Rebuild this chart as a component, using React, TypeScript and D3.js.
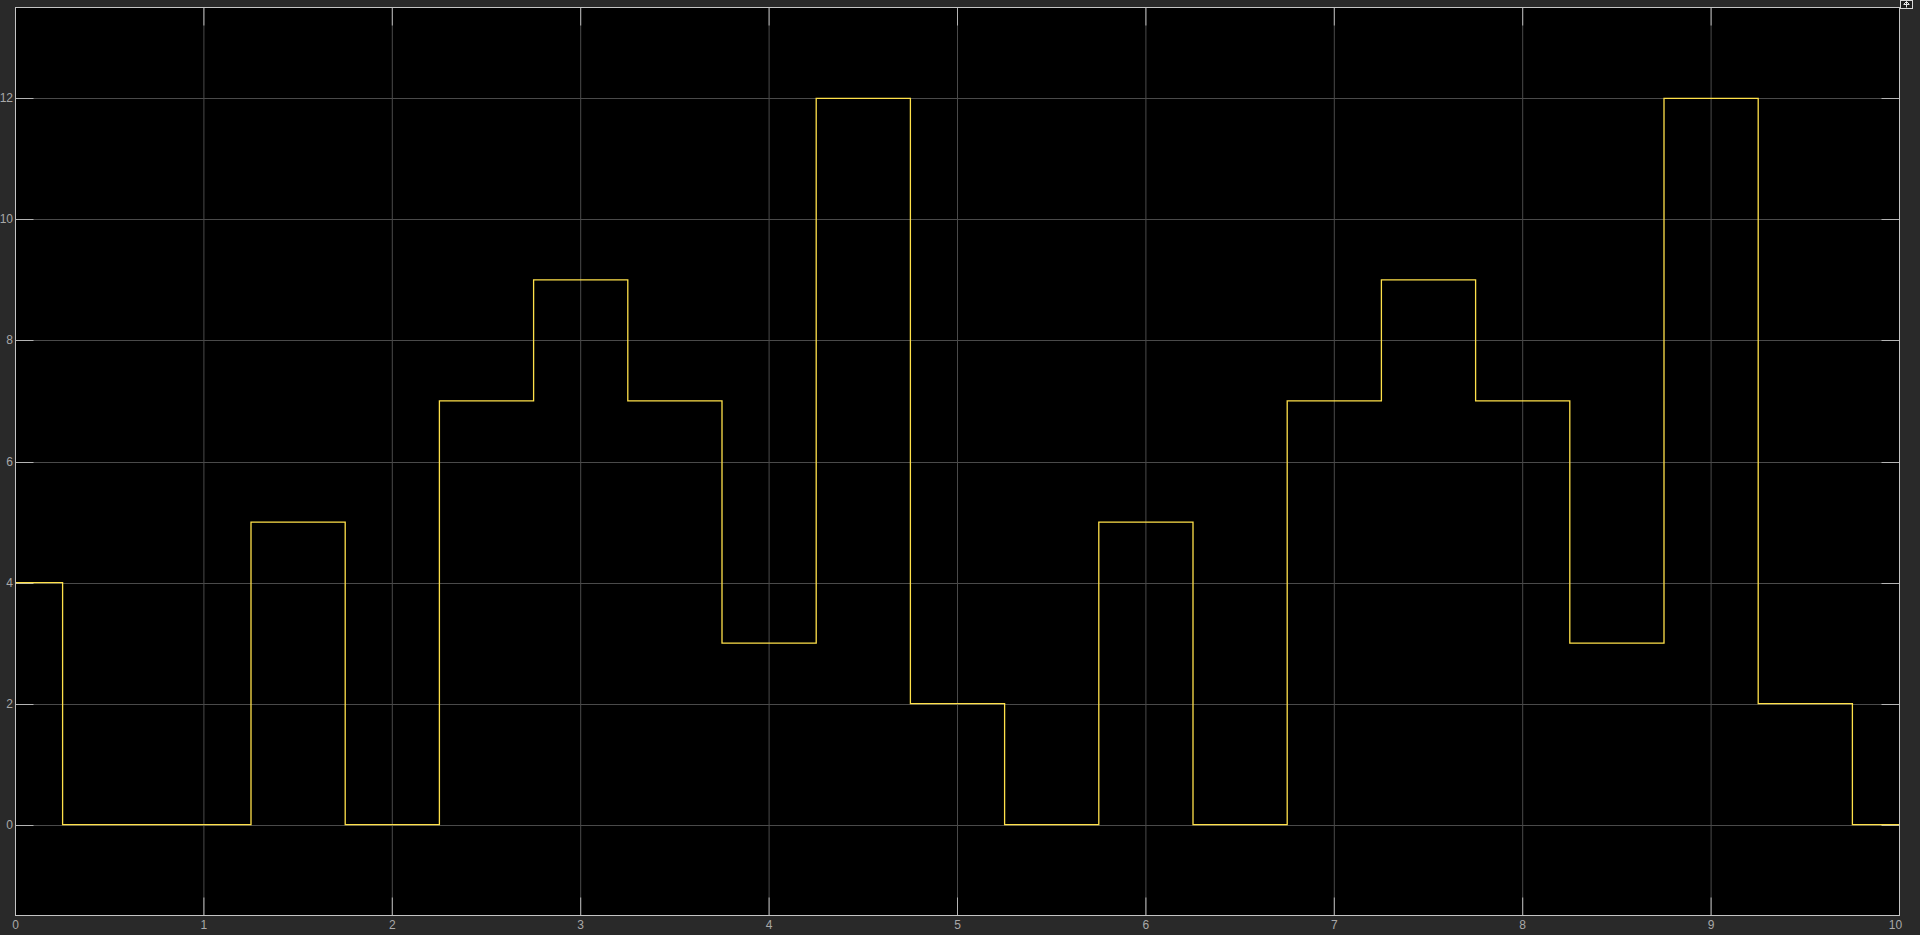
import React from "react";
import * as d3 from "d3";

// Step signal: breakpoints (time) and value held from each breakpoint onward
const stepTimes = [0, 0.25, 1.25, 1.75, 2.25, 2.75, 3.25, 3.75, 4.25, 4.75, 5.25, 5.75, 6.25, 6.75, 7.25, 7.75, 8.25, 8.75, 9.25, 9.75, 10];
const stepValues = [4, 0, 5, 0, 7, 9, 7, 3, 12, 2, 0, 5, 0, 7, 9, 7, 3, 12, 2, 0, 0];
const xTicks = [0, 1, 2, 3, 4, 5, 6, 7, 8, 9, 10];
const yTicks = [0, 2, 4, 6, 8, 10, 12];
const xDomain = [0, 10];
const yDomain = [-1.5, 13.5];

const W = 1920;
const H = 935;
const left = 15.5;
const right = 1899.5;
const top = 7.5;
const bottom = 915.5;

export default function App() {
  const x = d3.scaleLinear().domain(xDomain).range([left, right]);
  const y = d3.scaleLinear().domain(yDomain).range([bottom, top]);
  const pts: [number, number][] = stepTimes.map((t, i) => [t, stepValues[i]]);
  const line = d3
    .line<[number, number]>()
    .x((d) => x(d[0]))
    .y((d) => y(d[1]))
    .curve(d3.curveStepAfter);
  const tickLen = 18;
  const font = "Arial, 'Liberation Sans', sans-serif";
  return (
    <svg
      width={W}
      height={H}
      style={{ position: "fixed", left: 0, top: 0, display: "block" }}
    >
      <rect x={0} y={0} width={W} height={H} fill="#292929" />
      <rect x={left} y={top} width={right - left} height={bottom - top} fill="#000" />
      {/* grid */}
      {xTicks.map((t) => (
        <line key={"gx" + t} x1={x(t)} x2={x(t)} y1={top} y2={bottom} stroke="#4a4a4a" strokeWidth={1} />
      ))}
      {yTicks.map((t) => (
        <line key={"gy" + t} x1={left} x2={right} y1={Math.round(y(t)) + 0.5} y2={Math.round(y(t)) + 0.5} stroke="#4a4a4a" strokeWidth={1} />
      ))}
      {/* ticks */}
      {xTicks.map((t) => (
        <g key={"tx" + t}>
          <line x1={x(t)} x2={x(t)} y1={bottom} y2={bottom - tickLen} stroke="#b4b4b4" />
          <line x1={x(t)} x2={x(t)} y1={top} y2={top + tickLen} stroke="#b4b4b4" />
        </g>
      ))}
      {yTicks.map((t) => (
        <g key={"ty" + t}>
          <line x1={left} x2={left + tickLen} y1={Math.round(y(t)) + 0.5} y2={Math.round(y(t)) + 0.5} stroke="#b4b4b4" />
          <line x1={right - tickLen} x2={right} y1={Math.round(y(t)) + 0.5} y2={Math.round(y(t)) + 0.5} stroke="#b4b4b4" />
        </g>
      ))}
      {/* signal */}
      <path d={line(pts) || ""} fill="none" stroke="#ffe14a" strokeWidth={1.3} />
      {/* border */}
      <rect x={left} y={top} width={right - left} height={bottom - top} fill="none" stroke="#c4c4c4" strokeWidth={1} />
      {/* labels */}
      {yTicks.map((t) => (
        <text key={"ly" + t} x={13} y={y(t) + 4} textAnchor="end" fill="#a8a8a8" fontSize={12} fontFamily={font}>
          {t}
        </text>
      ))}
      {xTicks.map((t) => (
        <text key={"lx" + t} x={x(t) + (t === 10 ? -4 : 0)} y={929} textAnchor="middle" fill="#a8a8a8" fontSize={12} fontFamily={font}>
          {t}
        </text>
      ))}
      {/* corner button */}
      <g>
        <rect x={1900.5} y={0.5} width={12} height={8} fill="#1e1e1e" stroke="#d8d8d8" strokeWidth={1} />
        <path d="M1903.5,4.5 L1906.5,1.5 L1909.5,4.5 M1906.5,1.5 L1906.5,7.5" fill="none" stroke="#e8e8e8" strokeWidth={1} />
        <line x1={1904} x2={1909} y1={4.5} y2={4.5} stroke="#e8e8e8" />
      </g>
    </svg>
  );
}
